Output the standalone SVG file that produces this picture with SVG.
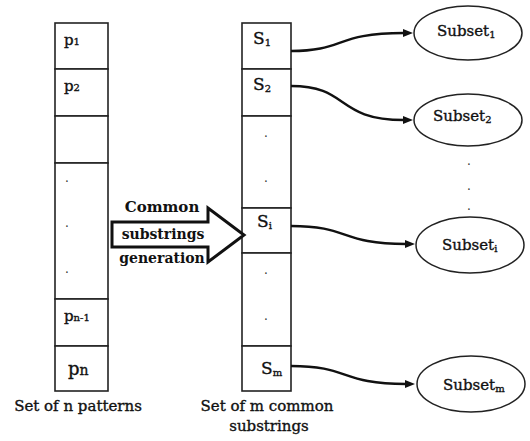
<svg xmlns="http://www.w3.org/2000/svg" width="530" height="441" viewBox="0 0 530 441">
<style>
.cell{fill:#fff;stroke:#222;stroke-width:1.6}
.lbl{font-family:"DejaVu Serif","Liberation Serif",serif;font-size:15px;fill:#111;stroke:#111;stroke-width:0.35}
.sub{font-size:10px}
.bold{font-family:"DejaVu Serif","Liberation Serif",serif;font-size:14px;font-weight:bold;fill:#111}
.dot{font-family:"DejaVu Serif",serif;font-size:12px;fill:#333;text-anchor:middle}
.conn{fill:none;stroke:#111;stroke-width:2.4}
.ell{fill:#fff;stroke:#222;stroke-width:1.5}
</style>
<defs>
<marker id="ah" viewBox="0 0 10 8" refX="1" refY="4" markerWidth="10" markerHeight="8" markerUnits="userSpaceOnUse" orient="auto">
<path d="M0,0 L10,4 L0,8 z" fill="#111"/>
</marker>
</defs>
<rect width="530" height="441" fill="#fff"/>

<g id="patterns">
<g id="p1"><rect class="cell" x="55" y="23" width="53" height="46"/><text class="lbl" x="64" y="45">p<tspan class="sub">1</tspan></text></g>
<g id="p2"><rect class="cell" x="55" y="69" width="53" height="47"/><text class="lbl" x="64" y="91">p<tspan class="sub">2</tspan></text></g>
<g id="p3"><rect class="cell" x="55" y="116" width="53" height="47"/></g>
<g id="pdots"><rect class="cell" x="55" y="163" width="53" height="136"/><text class="dot" x="67" y="182">.</text><text class="dot" x="67" y="227">.</text><text class="dot" x="67" y="273">.</text></g>
<g id="pn1"><rect class="cell" x="55" y="299" width="53" height="47"/><text class="lbl" x="64" y="321">p<tspan class="sub">n-1</tspan></text></g>
<g id="pn"><rect class="cell" x="55" y="346" width="53" height="45"/><text class="lbl" x="68" y="375" style="font-size:18px">p<tspan style="font-size:14px">n</tspan></text></g>
</g>

<g id="substrings">
<g id="s1"><rect class="cell" x="242" y="23" width="49" height="46"/><text class="lbl" x="253" y="44" style="font-size:17px">S<tspan class="sub" dy="2">1</tspan></text></g>
<g id="s2"><rect class="cell" x="242" y="69" width="49" height="47"/><text class="lbl" x="253" y="90" style="font-size:17px">S<tspan class="sub" dy="2">2</tspan></text></g>
<g id="sdots1"><rect class="cell" x="242" y="116" width="49" height="92"/><text class="dot" x="266" y="137">.</text><text class="dot" x="266" y="182">.</text></g>
<g id="si"><rect class="cell" x="242" y="208" width="49" height="45"/><text class="lbl" x="257" y="227" style="font-size:17px">S<tspan class="sub" dy="2">i</tspan></text></g>
<g id="sdots2"><rect class="cell" x="242" y="253" width="49" height="93"/><text class="dot" x="266" y="274">.</text><text class="dot" x="266" y="320">.</text></g>
<g id="sm"><rect class="cell" x="242" y="346" width="49" height="45"/><text class="lbl" x="261" y="374" style="font-size:17px">S<tspan class="sub" dy="2">m</tspan></text></g>
</g>

<g id="generation">
<polygon points="112,222 208,222 208,208 244,235 208,262 208,247 112,247" fill="#fff" stroke="#111" stroke-width="3" stroke-linejoin="miter"/>
<text class="bold" x="162" y="212" text-anchor="middle" style="font-size:15px">Common</text>
<text class="bold" x="163" y="239" text-anchor="middle">substrings</text>
<text class="bold" x="162" y="263" text-anchor="middle">generation</text>
</g>

<g id="connectors">
<path class="conn" d="M291,51 C345,51 335,33 404,33" marker-end="url(#ah)"/>
<path class="conn" d="M291,86 C350,86 335,120 404,120" marker-end="url(#ah)"/>
<path class="conn" d="M291,226 C350,226 340,244 406,244" marker-end="url(#ah)"/>
<path class="conn" d="M291,366 C350,366 340,384 406,384" marker-end="url(#ah)"/>
</g>

<g id="subset1"><ellipse class="ell" cx="468" cy="33" rx="54" ry="27"/><text class="lbl" x="437" y="36">Subset<tspan class="sub" dy="2">1</tspan></text></g>
<g id="subset2"><ellipse class="ell" cx="468" cy="120" rx="54" ry="26"/><text class="lbl" x="433" y="121">Subset<tspan class="sub" dy="2">2</tspan></text></g>
<g id="subsetdots"><text class="dot" x="469" y="165">.</text><text class="dot" x="469" y="190">.</text><text class="dot" x="469" y="210">.</text></g>
<g id="subseti"><ellipse class="ell" cx="470" cy="245" rx="54" ry="28"/><text class="lbl" x="442" y="250">Subset<tspan class="sub" dy="2">i</tspan></text></g>
<g id="subsetm"><ellipse class="ell" cx="471" cy="384" rx="54" ry="28"/><text class="lbl" x="443" y="390">Subset<tspan class="sub" dy="2">m</tspan></text></g>

<g id="captions">
<text class="lbl" x="78" y="411" text-anchor="middle">Set of n patterns</text>
<text class="lbl" x="267" y="411" text-anchor="middle">Set of m common</text>
<text class="lbl" x="269" y="431" text-anchor="middle">substrings</text>
</g>
</svg>
